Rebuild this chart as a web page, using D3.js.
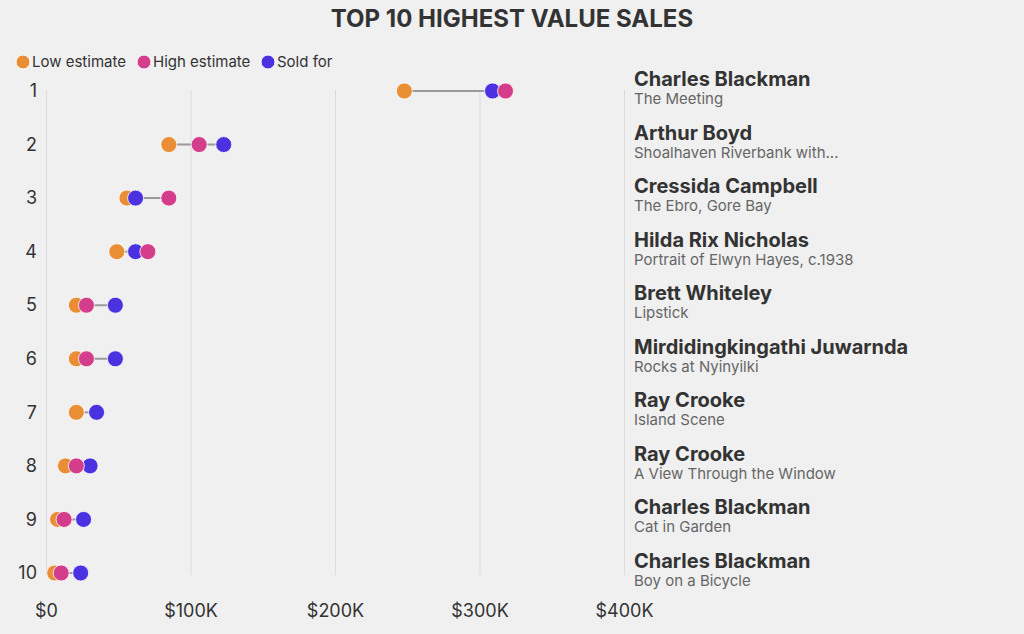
<!DOCTYPE html>
<html>
<head>
<meta charset="utf-8">
<script src="https://cdn.jsdelivr.net/npm/d3@7"></script>
<style>
  body { margin: 0; background: #f0f0f0; }
  svg { display: block; font-family: Inter, "Noto Sans", sans-serif; }
  .axis .domain, .axis .tick line { display: none; }
  .grid .domain { display: none; }
</style>
</head>
<body>
<svg id="chart" width="1024" height="634"></svg>
<script>
// DATA
var ranks = [1, 2, 3, 4, 5, 6, 7, 8, 9, 10];
var artists = ["Charles Blackman", "Arthur Boyd", "Cressida Campbell", "Hilda Rix Nicholas", "Brett Whiteley",
               "Mirdidingkingathi Juwarnda", "Ray Crooke", "Ray Crooke", "Charles Blackman", "Charles Blackman"];
var titles = ["The Meeting", "Shoalhaven Riverbank with...", "The Ebro, Gore Bay", "Portrait of Elwyn Hayes, c.1938",
              "Lipstick", "Rocks at Nyinyilki", "Island Scene", "A View Through the Window", "Cat in Garden", "Boy on a Bicycle"];
var lowEstimate  = [248000, 85000, 56000, 49000, 21000, 21000, 21000, 13500, 8000, 6000];
var highEstimate = [318000, 106000, 85000, 70500, 28000, 28000, null, 21000, 12500, 10500];
var soldFor      = [309000, 123000, 62000, 62000, 48000, 48000, 35000, 30500, 26000, 24000];
var xTicks = [0, 100000, 200000, 300000, 400000];

var SERIES = [
    {name: "Low estimate", values: lowEstimate, color: "#e98e35"},
    {name: "High estimate", values: highEstimate, color: "#d43d8b"},
    {name: "Sold for", values: soldFor, color: "#4a32e0"}
];
var DRAW_ORDER = [0, 2, 1]; // high estimate sits on top of sold price

var svg = d3.select("#chart");
var TEXT = "#333";

var x = d3.scaleLinear().domain([0, 400000]).range([46, 624]);
var y = d3.scalePoint().domain(ranks).range([91, 573]);

// title
svg.append("text")
    .attr("x", 512).attr("y", 27)
    .attr("text-anchor", "middle")
    .attr("font-size", 24).attr("font-weight", 700)
    .attr("fill", "#333")
    .text("TOP 10 HIGHEST VALUE SALES");

// legend
var legendX = [23, 144, 268];
var legend = svg.selectAll("g.legend")
    .data(SERIES)
    .enter().append("g")
    .attr("class", "legend")
    .attr("transform", function(d, i){ return "translate(" + legendX[i] + ",62)"; });
legend.append("circle")
    .attr("r", 7)
    .attr("fill", function(d){ return d.color; })
    .attr("stroke", "#fff").attr("stroke-width", 1);
legend.append("text")
    .attr("x", 9).attr("dy", "0.35em")
    .attr("font-size", 15).attr("fill", TEXT)
    .text(function(d){ return d.name; });

// gridlines
svg.append("g")
    .attr("class", "grid")
    .attr("transform", "translate(0,90)")
    .call(d3.axisBottom(x).tickValues(xTicks).tickSize(485).tickFormat(""))
    .call(function(g){
        g.selectAll(".tick line").attr("stroke", "#dcdcdc").attr("stroke-width", 1);
    });

// x axis labels
svg.append("g")
    .attr("class", "axis")
    .attr("transform", "translate(0,604)")
    .call(d3.axisBottom(x).tickValues(xTicks).tickSize(0).tickPadding(0)
        .tickFormat(function(d){ return d == 0 ? "$0" : "$" + (d / 1000) + "K"; }))
    .call(function(g){
        g.selectAll("text").attr("font-size", 18).attr("fill", TEXT)
            .attr("font-family", "Inter, sans-serif").attr("dy", "0.71em");
    });

// rank labels
svg.append("g")
    .attr("class", "axis")
    .attr("transform", "translate(37,0)")
    .call(d3.axisLeft(y).tickSize(0).tickPadding(0))
    .call(function(g){
        g.selectAll("text").attr("font-size", 18).attr("fill", TEXT)
            .attr("font-family", "Inter, sans-serif");
    });

// rows
var rows = svg.selectAll("g.row")
    .data(ranks)
    .enter().append("g")
    .attr("class", "row");

rows.append("line")
    .attr("y1", function(d){ return y(d); })
    .attr("y2", function(d){ return y(d); })
    .attr("x1", function(d, i){
        return x(d3.min(SERIES, function(s){ return s.values[i]; }));
    })
    .attr("x2", function(d, i){
        return x(d3.max(SERIES, function(s){ return s.values[i]; }));
    })
    .attr("stroke", "#9a9a9a").attr("stroke-width", 2);

DRAW_ORDER.forEach(function(k){
    var s = SERIES[k];
    rows.filter(function(d, i){ return s.values[i] != null; })
        .append("circle")
        .attr("cx", function(d){ return x(s.values[d - 1]); })
        .attr("cy", function(d){ return y(d); })
        .attr("r", 8)
        .attr("fill", s.color)
        .attr("stroke", "#fff").attr("stroke-width", 0.8);
});

// right hand labels
var labels = svg.selectAll("g.label")
    .data(ranks)
    .enter().append("g")
    .attr("class", "label")
    .attr("transform", function(d){ return "translate(634," + y(d) + ")"; });
labels.append("text")
    .attr("y", -5)
    .attr("font-size", 20).attr("font-weight", 700).attr("fill", "#333")
    .text(function(d, i){ return artists[i]; });
labels.append("text")
    .attr("y", 13)
    .attr("font-size", 15).attr("fill", "#666")
    .text(function(d, i){ return titles[i]; });
</script>
</body>
</html>
